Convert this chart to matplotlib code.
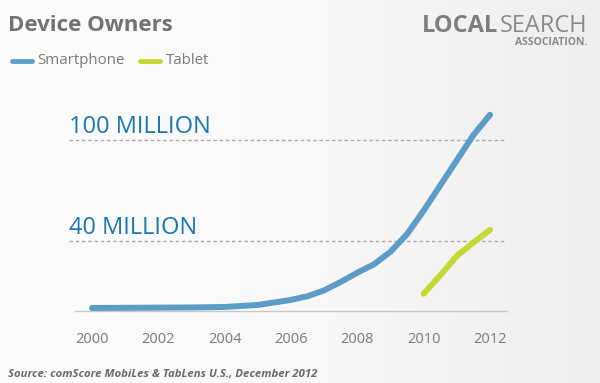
import matplotlib.pyplot as plt
import numpy as np

# data (millions of owners)
sp_years = [2000, 2001, 2002, 2003, 2004, 2005, 2006, 2006.5, 2007, 2007.5, 2008,
            2008.5, 2009, 2009.5, 2010, 2010.5, 2011, 2011.5, 2012]
sp_values = [0, 0.1, 0.2, 0.3, 0.6, 1.8, 4.8, 7, 10.5, 15.5, 21,
             26, 33.5, 44, 58, 73, 88, 103, 115]
tab_years = [2010, 2010.5, 2011, 2011.5, 2012]
tab_values = [8.5, 19.5, 31, 39, 46.5]
tick_years = [2000, 2002, 2004, 2006, 2008, 2010, 2012]
guide_values = [100, 40]
guide_labels = ['100 MILLION', '40 MILLION']

blue = '#5b9dc6'
lime = '#c5d934'
textblue = '#1b76b2'
gray = '#7a7a7a'

plt.rcParams['font.family'] = ['Open Sans', 'DejaVu Sans']

fig = plt.figure(figsize=(6, 3.83), dpi=100)

# soft background gradient
bg = fig.add_axes([0, 0, 1, 1], zorder=-10)
grad = np.linspace(0, 1, 256).reshape(1, -1)
bg.imshow(grad, aspect='auto', cmap=plt.matplotlib.colors.LinearSegmentedColormap.from_list(
    'bg', ['#fdfdfd', '#f8f8f8', '#eeeeee']), extent=[0, 1, 0, 1])
bg.axis('off')

ax = fig.add_axes([0.125, 0.188, 0.72, 0.551])
ax.patch.set_alpha(0)
ax.set_xlim(1999.49, 2012.51)
ax.set_ylim(-1.8, 123.8)

ax.plot(sp_years, sp_values, color=blue, lw=4.3, solid_capstyle='round',
        solid_joinstyle='round', zorder=3)
ax.plot(tab_years, tab_values, color=lime, lw=4.3, solid_capstyle='round',
        solid_joinstyle='round', zorder=3)

for v, lab in zip(guide_values, guide_labels):
    ax.plot([1999.3, 2012.45], [v, v], color='#aaaaaa', lw=1.0,
            ls=(0, (2.5, 2)), clip_on=False, zorder=1)
    ax.text(1999.3, v + 4, lab, color=textblue, fontsize=17,
            ha='left', va='baseline')

for s in ['top', 'right', 'left']:
    ax.spines[s].set_visible(False)
ax.spines['bottom'].set_color('#c8c8c8')
ax.spines['bottom'].set_linewidth(1.0)
ax.set_yticks([])
ax.set_xticks(tick_years)
ax.set_xticklabels([str(y) for y in tick_years], color=gray, fontsize=10.5)
ax.tick_params(axis='x', length=0, pad=15)

# title, legend, source, logo
fig.text(8 / 600, 1 - 31 / 383, 'Device Owners', fontsize=16, fontweight='bold',
         color='#727272', ha='left', va='baseline')
fig.add_artist(plt.Line2D([12 / 600, 32 / 600], [1 - 61 / 383] * 2, color=blue,
                          lw=3.5, solid_capstyle='round'))
fig.text(37 / 600, 1 - 61 / 383, 'Smartphone', fontsize=10.8, color=gray,
         ha='left', va='center')
fig.add_artist(plt.Line2D([140 / 600, 160 / 600], [1 - 61 / 383] * 2, color=lime,
                          lw=3.5, solid_capstyle='round'))
fig.text(166 / 600, 1 - 61 / 383, 'Tablet', fontsize=10.8, color=gray,
         ha='left', va='center')
fig.text(8 / 600, 1 - 377 / 383, 'Source: comScore MobiLes & TabLens U.S., December 2012',
         fontsize=8.2, fontstyle='italic', fontweight='bold', color='#6a6a6a',
         ha='left', va='baseline')

# logo text: "SEARCH" right-aligned, "LOCAL" butted up against it
t2 = fig.text(587 / 600, 1 - 32 / 383, 'SEARCH', fontsize=17, color='#8a8a8a',
              ha='right', va='baseline')
fig.canvas.draw()
bb = t2.get_window_extent()
fig.text(bb.x0 / 600 - 0.002, 1 - 32 / 383, 'LOCAL', fontsize=17, fontweight='bold',
         color='#7e7e7e', ha='right', va='baseline')
fig.text(587 / 600, 1 - 45 / 383, 'ASSOCIATION.', fontsize=7.5, fontweight='bold',
         color='#8a8a8a', ha='right', va='baseline')

fig.savefig('out.png', dpi=100)
